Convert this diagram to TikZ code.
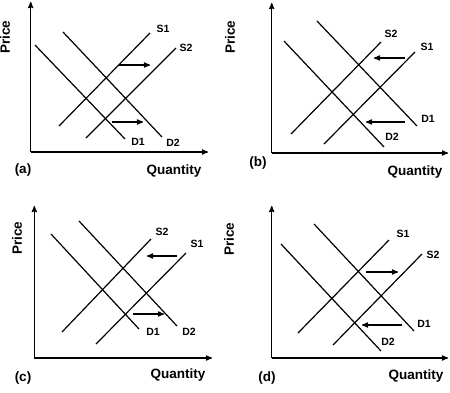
\documentclass[tikz,border=0pt]{standalone}
\usepackage{fontspec}
\setmainfont{Liberation Sans}
\usetikzlibrary{arrows}

\tikzset{
  axis/.style={->,line width=1.2pt},
  curve/.style={line width=1.2pt},
  move/.style={->,line width=1.2pt},
  lbl/.style={font=\fontsize{10.5}{12}\selectfont\bfseries,inner sep=0pt},
  ttl/.style={font=\fontsize{13.5}{15}\selectfont\bfseries,inner sep=0pt}
}

\begin{document}
\begin{tikzpicture}[x=1pt,y=-1pt,>=stealth']
\useasboundingbox (0,0) rectangle (450,392);

% (a)
\coordinate (a_o) at (30.7,152);
\coordinate (a_y) at (30.7,2);
\coordinate (a_x) at (208,152);
\draw[axis] (a_o) -- (a_y);
\draw[axis] (a_o) -- (a_x);
\node[ttl,rotate=90] (a_p) at (5,37) {Price};
\node[ttl] (a_q) at (174,171) {Quantity};
\node[ttl] (a_n) at (23,170) {(a)};
\coordinate (a_d1s) at (35,45);   \node[lbl] (a_d1) at (138,142) {D1};
\coordinate (a_d1e) at (125,139);
\coordinate (a_d2s) at (63,32);   \node[lbl] (a_d2) at (173,143) {D2};
\coordinate (a_d2e) at (162,137);
\coordinate (a_s1s) at (59,126);  \node[lbl] (a_s1) at (163,29) {S1};
\coordinate (a_s1e) at (150,33);
\coordinate (a_s2s) at (86,138);  \node[lbl] (a_s2) at (186,48) {S2};
\coordinate (a_s2e) at (176,48);
\draw[curve] (a_d1s) -- (a_d1e);
\draw[curve] (a_d2s) -- (a_d2e);
\draw[curve] (a_s1s) -- (a_s1e);
\draw[curve] (a_s2s) -- (a_s2e);
\coordinate (a_u1) at (119,65);  \coordinate (a_u2) at (150,65);
\coordinate (a_l1) at (112,122); \coordinate (a_l2) at (143,122);
\draw[move] (a_u1) -- (a_u2);
\draw[move] (a_l1) -- (a_l2);

% (b)
\coordinate (b_o) at (271.7,153);
\coordinate (b_y) at (271.7,3);
\coordinate (b_x) at (448,153);
\draw[axis] (b_o) -- (b_y);
\draw[axis] (b_o) -- (b_x);
\node[ttl,rotate=90] (b_p) at (230,37) {Price};
\node[ttl] (b_q) at (415,172) {Quantity};
\node[ttl] (b_n) at (258,163) {(b)};
\coordinate (b_d1s) at (317,21);  \node[lbl] (b_d1) at (428,119) {D1};
\coordinate (b_d1e) at (417,126);
\coordinate (b_d2s) at (284,41);  \node[lbl] (b_d2) at (392,137) {D2};
\coordinate (b_d2e) at (384,147);
\coordinate (b_s2s) at (291,134); \node[lbl] (b_s2) at (391,34) {S2};
\coordinate (b_s2e) at (381,42);
\coordinate (b_s1s) at (324,144); \node[lbl] (b_s1) at (427,47) {S1};
\coordinate (b_s1e) at (415,52);
\draw[curve] (b_d1s) -- (b_d1e);
\draw[curve] (b_d2s) -- (b_d2e);
\draw[curve] (b_s1s) -- (b_s1e);
\draw[curve] (b_s2s) -- (b_s2e);
\coordinate (b_u1) at (405,58);  \coordinate (b_u2) at (374,58);
\coordinate (b_l1) at (405,122); \coordinate (b_l2) at (366,122);
\draw[move] (b_u1) -- (b_u2);
\draw[move] (b_l1) -- (b_l2);

% (c)
\coordinate (c_o) at (34.3,358);
\coordinate (c_y) at (34.3,206);
\coordinate (c_x) at (212,358);
\draw[axis] (c_o) -- (c_y);
\draw[axis] (c_o) -- (c_x);
\node[ttl,rotate=90] (c_p) at (17,238) {Price};
\node[ttl] (c_q) at (178,375) {Quantity};
\node[ttl] (c_n) at (23,378) {(c)};
\coordinate (c_d1s) at (51,234);  \node[lbl] (c_d1) at (153,332) {D1};
\coordinate (c_d1e) at (139,329);
\coordinate (c_d2s) at (79,221);  \node[lbl] (c_d2) at (189,332) {D2};
\coordinate (c_d2e) at (177,326);
\coordinate (c_s2s) at (62,332);  \node[lbl] (c_s2) at (162,232) {S2};
\coordinate (c_s2e) at (151,239);
\coordinate (c_s1s) at (96,344);  \node[lbl] (c_s1) at (197,244) {S1};
\coordinate (c_s1e) at (186,253);
\draw[curve] (c_d1s) -- (c_d1e);
\draw[curve] (c_d2s) -- (c_d2e);
\draw[curve] (c_s1s) -- (c_s1e);
\draw[curve] (c_s2s) -- (c_s2e);
\coordinate (c_u1) at (177,256); \coordinate (c_u2) at (147,256);
\coordinate (c_l1) at (133,314); \coordinate (c_l2) at (164,314);
\draw[move] (c_u1) -- (c_u2);
\draw[move] (c_l1) -- (c_l2);

% (d)
\coordinate (d_o) at (271.7,358);
\coordinate (d_y) at (271.7,206);
\coordinate (d_x) at (448,358);
\draw[axis] (d_o) -- (d_y);
\draw[axis] (d_o) -- (d_x);
\node[ttl,rotate=90] (d_p) at (229,239) {Price};
\node[ttl] (d_q) at (416,376) {Quantity};
\node[ttl] (d_n) at (267,378) {(d)};
\coordinate (d_d1s) at (314,224); \node[lbl] (d_d1) at (424,324) {D1};
\coordinate (d_d1e) at (414,331);
\coordinate (d_d2s) at (281,244); \node[lbl] (d_d2) at (388,342) {D2};
\coordinate (d_d2e) at (381,351);
\coordinate (d_s1s) at (298,333); \node[lbl] (d_s1) at (403,234) {S1};
\coordinate (d_s1e) at (389,240);
\coordinate (d_s2s) at (333,345); \node[lbl] (d_s2) at (433,255) {S2};
\coordinate (d_s2e) at (422,254);
\draw[curve] (d_d1s) -- (d_d1e);
\draw[curve] (d_d2s) -- (d_d2e);
\draw[curve] (d_s1s) -- (d_s1e);
\draw[curve] (d_s2s) -- (d_s2e);
\coordinate (d_u1) at (366,272); \coordinate (d_u2) at (398,272);
\coordinate (d_l1) at (402,325); \coordinate (d_l2) at (362,325);
\draw[move] (d_u1) -- (d_u2);
\draw[move] (d_l1) -- (d_l2);
\end{tikzpicture}
\end{document}
